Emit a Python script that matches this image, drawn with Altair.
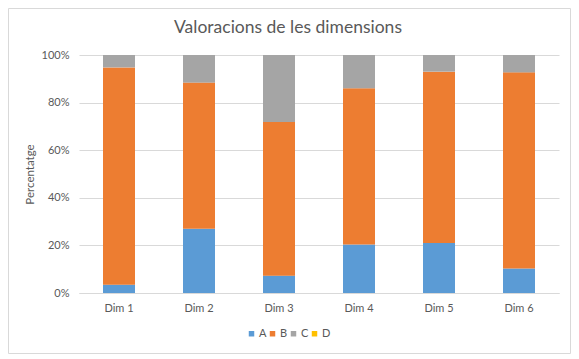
import altair as alt
import pandas as pd

dims = ["Dim 1", "Dim 2", "Dim 3", "Dim 4", "Dim 5", "Dim 6"]
series = ["A", "B", "C", "D"]
val_A = [3.5, 27.0, 7.3, 20.4, 21.0, 10.3]
val_B = [91.3, 61.4, 64.5, 65.6, 72.0, 82.4]
val_C = [5.2, 11.6, 28.2, 14.0, 7.0, 7.3]
val_D = [0, 0, 0, 0, 0, 0]
colors = ["#5B9BD5", "#ED7D31", "#A5A5A5", "#FFC000"]
title_text = "Valoracions de les dimensions"

rows = []
for s_i, (s, vals) in enumerate(zip(series, [val_A, val_B, val_C, val_D])):
    for d, v in zip(dims, vals):
        rows.append({"dim": d, "serie": s, "val": v / 100.0, "ord": s_i})
df = pd.DataFrame(rows)

FONT = "Lato"
TXT = "#595959"
W, H = 480, 238
PL, PT, PR, PB = 71, 47, 12, 61

bars = alt.Chart(df).mark_bar().encode(
    x=alt.X("dim:N", sort=dims, title=None,
            scale=alt.Scale(paddingInner=0.6, paddingOuter=0.3),
            axis=alt.Axis(labelAngle=0, ticks=False, domain=True, domainColor="#D9D9D9",
                          labelPadding=9, labelFont=FONT, labelFontSize=11, labelColor=TXT)),
    y=alt.Y("val:Q", stack="zero", title="Percentatge",
            scale=alt.Scale(domain=[0, 1], nice=False),
            axis=alt.Axis(format=".0%", values=[0, 0.2, 0.4, 0.6, 0.8, 1.0], ticks=False, domain=False,
                          grid=True, gridColor="#D9D9D9", labelPadding=10,
                          labelFont=FONT, labelFontSize=11, labelColor=TXT,
                          titleFont=FONT, titleFontSize=11.5, titleColor=TXT, titleFontWeight="normal",
                          titlePadding=6)),
    color=alt.Color("serie:N", scale=alt.Scale(domain=series, range=colors), title=None,
                    legend=alt.Legend(orient="none", direction="horizontal", legendX=167, legendY=273,
                                      symbolType="square", symbolSize=30, symbolStrokeWidth=0,
                                      labelFont=FONT, labelFontSize=11, labelColor=TXT,
                                      labelOffset=2, columnPadding=0)),
    order=alt.Order("ord:Q", sort="ascending"),
)

border = alt.Chart(pd.DataFrame({"a": [0]})).mark_rect(
    fill=None, stroke="#D9D9D9", strokeWidth=1
).encode(
    x=alt.value(-PL + 0.5), x2=alt.value(W + PR - 0.5),
    y=alt.value(-PT + 0.5), y2=alt.value(H + PB - 0.5),
)

title = alt.Chart(pd.DataFrame({"t": [title_text]})).mark_text(
    font=FONT, fontSize=17.5, color=TXT, align="center", baseline="middle"
).encode(
    text="t:N", x=alt.value(209), y=alt.value(-27),
)

chart = alt.layer(border, title, bars).properties(
    width=W, height=H,
    padding={"left": PL, "top": PT, "right": PR, "bottom": PB},
    autosize=alt.AutoSizeParams(type="none"),
).configure_view(stroke=None)

chart.save("out.html", embed_options={"renderer": "svg", "actions": False})
